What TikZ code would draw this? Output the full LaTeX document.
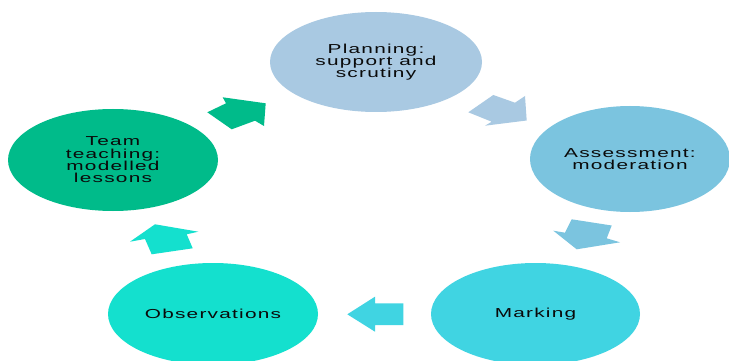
\documentclass[tikz,border=0pt]{standalone}
\usepackage{fontspec}
\usepackage{graphicx}
\usetikzlibrary{shapes.geometric}
\newfontfamily\cyclefont[LetterSpace=6]{Liberation Sans}
\definecolor{cPlan}{RGB}{169,201,226}
\definecolor{cAssess}{RGB}{123,196,223}
\definecolor{cMark}{RGB}{64,212,226}
\definecolor{cObs}{RGB}{20,224,206}
\definecolor{cTeam}{RGB}{0,187,138}
\definecolor{cText}{RGB}{10,10,10}
% wide, tightly leaded label text; lines are separated by \cr
\newcommand{\widelabel}[1]{\scalebox{1.6}[1]{\cyclefont\fontsize{13}{12.3}\selectfont
  \vbox{\baselineskip=12.3pt\lineskiplimit=-20pt\halign{\hfil##\hfil\cr#1\crcr}}}}
\begin{document}
\begin{tikzpicture}[x=1pt,y=-1pt,
  stage/.style={ellipse,inner sep=0pt,draw=none,text=cText},
  blockarrow/.style={draw=none}]
\clip (0,0) rectangle (729,361);
\fill[white] (0,0) rectangle (729,361);

% the five stages of the cycle
\node[stage,fill=cPlan,minimum width=212pt,minimum height=100pt] (plan) at (376,62)
  {\widelabel{Planning:\cr support and\cr scrutiny}};
\node[stage,fill=cAssess,minimum width=200pt,minimum height=106pt] (assess) at (630,159)
  {\widelabel{Assessment:\cr moderation}};
\node[stage,fill=cMark,minimum width=209pt,minimum height=102pt] (mark) at (535.5,314)
  {\widelabel{Marking}};
\node[stage,fill=cObs,minimum width=210pt,minimum height=102pt] (obs) at (213,314)
  {\widelabel{Observations}};
\node[stage,fill=cTeam,minimum width=210pt,minimum height=102pt] (team) at (113,160)
  {\widelabel{Team\cr teaching:\cr modelled\cr lessons}};

% block arrows between the stages
\fill[blockarrow,cTeam] (207.3,112.3) -- (226,103.3) -- (222.7,97.3) -- (265.7,103.3)
  -- (264,126) -- (255,120.7) -- (231.7,129.3) -- cycle;
\fill[blockarrow,cPlan] (493.3,95) -- (515,102.7) -- (525,96) -- (526.7,120.5)
  -- (485,125.7) -- (491.7,121.7) -- (468.3,112.3) -- cycle;
\fill[blockarrow,cAssess] (571.7,219.3) -- (611.7,225.5) -- (606.7,238.3) -- (620,242.3)
  -- (576.7,249.3) -- (553.3,230.7) -- (565,232.7) -- cycle;
\fill[blockarrow,cMark] (347.3,314.3) -- (375,296.7) -- (375,303.3) -- (403.3,303.3)
  -- (403.3,325) -- (375,325) -- (375,331.7) -- cycle;
\fill[blockarrow,cObs] (130,241.7) -- (155,224.3) -- (198.3,231.7) -- (186.7,234.3)
  -- (192.7,248.3) -- (151.7,254.3) -- (145,239) -- cycle;
\end{tikzpicture}
\end{document}
